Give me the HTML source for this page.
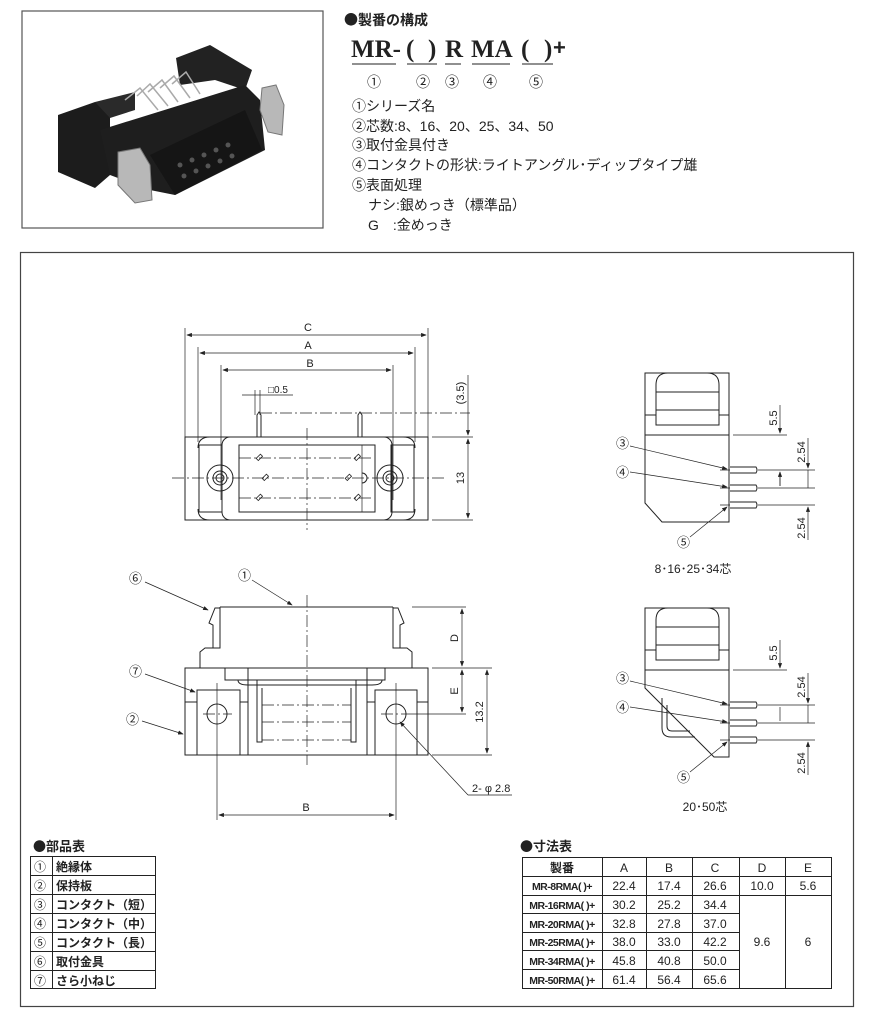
<!DOCTYPE html>
<html><head><meta charset="utf-8"><style>
body{margin:0;background:#fff}
svg{display:block}
text{font-family:"Liberation Sans","Noto Sans CJK JP",sans-serif;fill:#222}
.j{font-family:"Noto Sans CJK JP",sans-serif}
.l{stroke:#222;stroke-width:1;fill:none}
.t{stroke:#222;stroke-width:.7;fill:none}
.c{stroke:#222;stroke-width:.7;fill:none;stroke-dasharray:12 3 2 3}
</style></head><body>
<svg width="874" height="1014" viewBox="0 0 874 1014" xmlns="http://www.w3.org/2000/svg">
<defs><marker id="a" markerWidth="8" markerHeight="6" refX="7" refY="3" orient="auto-start-reverse"><path d="M0,0 L8,3 L0,6z" fill="#222"/></marker></defs>

<!-- photo -->
<rect x="22" y="11" width="301" height="217" fill="#fff" stroke="#555" stroke-width="1.2"/>
<g>
<polygon points="58,115 95,102 110,108 110,175 95,188 58,172" fill="#1c1c1c"/>
<polygon points="95,102 135,92 135,110 110,118" fill="#2a2a2a"/>
<polygon points="176,58 210,45 252,70 245,90 215,80 180,85" fill="#222"/>
<polygon points="100,130 245,85 260,100 265,150 175,195 150,190 110,175" fill="#1e1e1e"/>
<polygon points="150,155 245,110 262,150 175,195" fill="#151515"/>
<g stroke="#aaa" stroke-width="1.5" fill="none">
<path d="M125,100 L140,88 L158,110"/><path d="M137,96 L150,84 L168,106"/><path d="M148,92 L162,80 L178,102"/><path d="M160,88 L174,76 L190,98"/><path d="M172,84 L186,72 L200,94"/>
</g>
<g fill="#555"><circle cx="180" cy="165" r="2.5"/><circle cx="192" cy="160" r="2.5"/><circle cx="204" cy="155" r="2.5"/><circle cx="216" cy="150" r="2.5"/><circle cx="228" cy="145" r="2.5"/><circle cx="184" cy="176" r="2.5"/><circle cx="196" cy="171" r="2.5"/><circle cx="208" cy="166" r="2.5"/><circle cx="220" cy="161" r="2.5"/><circle cx="232" cy="156" r="2.5"/></g>
<polygon points="118,152 140,148 150,165 152,200 135,203 118,185" fill="#b8b8b8" stroke="#777"/>
<polygon points="262,88 276,85 284,105 282,135 268,132 260,110" fill="#b8b8b8" stroke="#777"/>
</g>

<!-- header -->
<text x="344" y="25" font-size="14" font-weight="bold" class="j">●製番の構成</text>
<text x="351" y="57" font-size="25" font-weight="bold" style="font-family:'Liberation Serif',serif">MR-</text>
<text x="406" y="57" font-size="25" font-weight="bold" style="font-family:'Liberation Serif',serif">(</text>
<text x="428" y="57" font-size="25" font-weight="bold" style="font-family:'Liberation Serif',serif">)</text>
<text x="445" y="57" font-size="25" font-weight="bold" style="font-family:'Liberation Serif',serif">R</text>
<text x="471" y="57" font-size="25" font-weight="bold" style="font-family:'Liberation Serif',serif">MA</text>
<text x="521" y="57" font-size="25" font-weight="bold" style="font-family:'Liberation Serif',serif">(</text>
<text x="544" y="57" font-size="25" font-weight="bold" style="font-family:'Liberation Serif',serif">)</text>
<text x="553" y="55" font-size="22" font-weight="bold">+</text>
<g stroke="#222" stroke-width="1"><line x1="352" y1="64" x2="396" y2="64"/><line x1="407" y1="64" x2="437" y2="64"/><line x1="445" y1="64" x2="461" y2="64"/><line x1="472" y1="64" x2="510" y2="64"/><line x1="522" y1="64" x2="553" y2="64"/></g>
<g font-size="14" class="j"><text x="367" y="87">①</text><text x="416" y="87">②</text><text x="445" y="87">③</text><text x="483" y="87">④</text><text x="529" y="87">⑤</text></g>
<g font-size="14"><text x="352" y="111">①シリーズ名</text><text x="352" y="131">②芯数:8、16、20、25、34、50</text><text x="352" y="150">③取付金具付き</text><text x="352" y="170">④コンタクトの形状:ライトアングル･ディップタイプ雄</text><text x="352" y="190">⑤表面処理</text><text x="368" y="210">ナシ:銀めっき（標準品）</text><text x="368" y="230">G　:金めっき</text></g>

<!-- main frame -->
<rect x="20.5" y="252.5" width="833" height="754" fill="none" stroke="#444" stroke-width="1.2"/>

<!-- top view -->
<g>
<line class="t" x1="185" y1="328" x2="185" y2="437"/><line class="t" x1="428" y1="328" x2="428" y2="437"/>
<line class="t" x1="198" y1="347" x2="198" y2="442"/><line class="t" x1="415" y1="347" x2="415" y2="442"/>
<line class="t" x1="221" y1="365" x2="221" y2="500"/><line class="t" x1="393" y1="365" x2="393" y2="500"/>
<line class="t" x1="187" y1="335" x2="426" y2="335" marker-start="url(#a)" marker-end="url(#a)"/>
<line class="t" x1="200" y1="353" x2="413" y2="353" marker-start="url(#a)" marker-end="url(#a)"/>
<line class="t" x1="223" y1="370" x2="391" y2="370" marker-start="url(#a)" marker-end="url(#a)"/>
<text x="308" y="331" font-size="11" text-anchor="middle">C</text>
<text x="308" y="349" font-size="11" text-anchor="middle">A</text>
<text x="310" y="367" font-size="11" text-anchor="middle">B</text>
<text x="268" y="393" font-size="10">□0.5</text>
<line class="t" x1="242" y1="395" x2="293" y2="395"/>
<line class="t" x1="255" y1="390" x2="255" y2="415"/><line class="t" x1="260" y1="390" x2="260" y2="415"/>
<line class="c" x1="260" y1="413" x2="470" y2="413"/>
<path class="l" d="M257,437 V415 l2,-3 l2,3 V437 M358,437 V415 l2,-3 l2,3 V437"/>
<rect class="l" x="185" y="437" width="243" height="83"/>
<path class="l" d="M199,445 H222 V512 H199 Z M391,445 H414 V512 H391 Z"/>
<path class="l" d="M198,448 q0,-11 12,-11 M198,509 q0,11 12,11 M415,448 q0,-11 -12,-11 M415,509 q0,11 -12,11"/>
<rect class="l" x="222" y="437" width="170" height="83" rx="8"/>
<rect class="l" x="239" y="445" width="136" height="67"/>
<line class="t" x1="362" y1="445" x2="362" y2="512"/>
<circle class="l" cx="220" cy="478" r="13"/><circle class="l" cx="220" cy="478" r="7"/><circle class="l" cx="220" cy="478" r="4"/>
<circle class="l" cx="390" cy="478" r="13"/><circle class="l" cx="390" cy="478" r="7"/><circle class="l" cx="390" cy="478" r="4"/>
<path class="l" d="M362,473 a5,5 0 0,1 0,10"/>
<line class="c" x1="172" y1="478" x2="446" y2="478"/>
<line class="c" x1="239" y1="458" x2="374" y2="458"/><line class="c" x1="239" y1="498" x2="374" y2="498"/>
<line class="c" x1="307" y1="428" x2="307" y2="530"/>
<g fill="none" stroke="#222" stroke-width=".8"><rect x="256" y="456" width="6" height="3" transform="rotate(-45 259 457)"/><rect x="262" y="476" width="6" height="3" transform="rotate(-45 265 477)"/><rect x="256" y="496" width="6" height="3" transform="rotate(-45 259 497)"/><rect x="354" y="456" width="6" height="3" transform="rotate(-45 357 457)"/><rect x="345" y="476" width="6" height="3" transform="rotate(-45 348 477)"/><rect x="354" y="496" width="6" height="3" transform="rotate(-45 357 497)"/></g>
<line class="t" x1="432" y1="437" x2="473" y2="437"/><line class="t" x1="432" y1="520" x2="473" y2="520"/>
<line class="t" x1="468" y1="375" x2="468" y2="435" marker-end="url(#a)"/>
<line class="t" x1="468" y1="439" x2="468" y2="518" marker-start="url(#a)" marker-end="url(#a)"/>
<text transform="translate(464,393) rotate(-90)" font-size="11" text-anchor="middle">(3.5)</text>
<text transform="translate(464,478) rotate(-90)" font-size="11" text-anchor="middle">13</text>
</g>

<!-- front view -->
<g>
<path class="l" d="M220,607 H393 M220,607 V648 H213 V625 l-4,-2 l6,-15 h5 M393,607 V648 H400 V625 l4,-2 l-6,-15 h-5 M200,668 V652 l5,-4 h8 M412,668 V652 l-5,-4 h-7 M200,668 H412"/>
<rect class="l" x="185" y="668" width="243" height="87"/>
<path class="l" d="M225,668 V680 H385 V668 M238,680 q0,5 10,5 H372 q10,0 10,-5"/>
<rect class="l" x="197" y="690" width="43" height="65"/><rect class="l" x="375" y="690" width="42" height="65"/>
<path class="l" d="M185,702 H197 M240,702 H248 M367,702 H375 M417,702 H428 M248,668 V755 M367,668 V755"/>
<path class="l" d="M257,680 V742 H262 V688 M356,680 V742 H351 V688"/>
<line class="c" x1="262" y1="705" x2="351" y2="705"/><line class="c" x1="262" y1="722" x2="351" y2="722"/><line class="c" x1="262" y1="740" x2="351" y2="740"/>
<circle class="l" cx="217" cy="714" r="10"/><circle class="l" cx="396" cy="714" r="10"/>
<line class="c" x1="203" y1="714" x2="232" y2="714"/><line class="c" x1="381" y1="714" x2="412" y2="714"/>
<line class="c" x1="307" y1="595" x2="307" y2="765"/>
<line class="t" x1="217" y1="683" x2="217" y2="820"/><line class="t" x1="396" y1="683" x2="396" y2="820"/>
<line class="t" x1="219" y1="815" x2="394" y2="815" marker-start="url(#a)" marker-end="url(#a)"/>
<text x="306" y="811" font-size="11" text-anchor="middle">B</text>
<line class="t" x1="412" y1="607" x2="466" y2="607"/><line class="t" x1="432" y1="668" x2="492" y2="668"/><line class="t" x1="412" y1="714" x2="466" y2="714"/><line class="t" x1="432" y1="755" x2="492" y2="755"/>
<line class="t" x1="462" y1="609" x2="462" y2="666" marker-start="url(#a)" marker-end="url(#a)"/>
<line class="t" x1="462" y1="670" x2="462" y2="712" marker-start="url(#a)" marker-end="url(#a)"/>
<line class="t" x1="487" y1="670" x2="487" y2="753" marker-start="url(#a)" marker-end="url(#a)"/>
<text transform="translate(458,638) rotate(-90)" font-size="11" text-anchor="middle">D</text>
<text transform="translate(458,691) rotate(-90)" font-size="11" text-anchor="middle">E</text>
<text transform="translate(483,712) rotate(-90)" font-size="11" text-anchor="middle">13.2</text>
<line class="t" x1="468" y1="795" x2="400" y2="722" marker-end="url(#a)"/><line class="t" x1="468" y1="795" x2="512" y2="795"/>
<text x="472" y="792" font-size="11">2- φ 2.8</text>
<line class="t" x1="145" y1="582" x2="208" y2="610" marker-end="url(#a)"/>
<line class="t" x1="252" y1="580" x2="292" y2="605" marker-end="url(#a)"/>
<line class="t" x1="145" y1="674" x2="195" y2="692" marker-end="url(#a)"/>
<line class="t" x1="142" y1="721" x2="183" y2="734" marker-end="url(#a)"/>
<g font-size="13" class="j"><text x="129" y="583">⑥</text><text x="238" y="580">①</text><text x="129" y="676">⑦</text><text x="126" y="724">②</text></g>
</g>

<!-- side view 1 -->
<g>
<path class="l" d="M645,373 H729 V522 H662 L645,503 Z M645,415 H656 M719,415 H729 M645,435 H729"/>
<path class="l" d="M656,425 V385 q0,-12 12,-12 H707 q12,0 12,12 V425 Z M656,392 H719 M656,410 H719"/>
<g class="l"><path d="M730,467 H756 q2,3 0,6 H730"/><path d="M730,485 H756 q2,3 0,6 H730"/><path d="M730,502 H756 q2,3 0,6 H730"/></g>
<path class="t" d="M720,470 H730 M720,488 H730 M720,505 H730"/>
<line class="t" x1="733" y1="435" x2="787" y2="435"/>
<line class="t" x1="758" y1="470" x2="815" y2="470"/><line class="t" x1="758" y1="488" x2="815" y2="488"/><line class="t" x1="758" y1="505" x2="815" y2="505"/>
<line class="t" x1="780" y1="405" x2="780" y2="433" marker-end="url(#a)"/><line class="t" x1="780" y1="486" x2="780" y2="472" marker-end="url(#a)"/><line class="t" x1="780" y1="472" x2="780" y2="486"/>
<line class="t" x1="808" y1="438" x2="808" y2="468" marker-end="url(#a)"/><line class="t" x1="808" y1="470" x2="808" y2="488"/>
<line class="t" x1="808" y1="540" x2="808" y2="507" marker-end="url(#a)"/>
<text transform="translate(777,418) rotate(-90)" font-size="11" text-anchor="middle">5.5</text>
<text transform="translate(805,452) rotate(-90)" font-size="11" text-anchor="middle">2.54</text>
<text transform="translate(805,528) rotate(-90)" font-size="11" text-anchor="middle">2.54</text>
<line class="t" x1="630" y1="446" x2="727" y2="469" marker-end="url(#a)"/>
<line class="t" x1="630" y1="472" x2="727" y2="487" marker-end="url(#a)"/>
<line class="t" x1="690" y1="537" x2="727" y2="507" marker-end="url(#a)"/>
<g font-size="13" class="j"><text x="616" y="448">③</text><text x="616" y="477">④</text><text x="677" y="547">⑤</text></g>
<text x="693" y="573" font-size="12" text-anchor="middle">8･16･25･34芯</text>
</g>

<!-- side view 2 -->
<g transform="translate(0,235)">
<path class="l" d="M645,373 H729 V522 H714 L645,453 Z M645,415 H656 M719,415 H729 M645,435 H729"/>
<path class="l" d="M656,425 V385 q0,-12 12,-12 H707 q12,0 12,12 V425 Z M656,392 H719 M656,410 H719"/>
<path class="l" d="M662,463 V493 q0,9 9,9 H695 M667,470 V491 q0,5 5,5 H690"/>
<g class="l"><path d="M730,467 H756 q2,3 0,6 H730"/><path d="M730,485 H756 q2,3 0,6 H730"/><path d="M730,502 H756 q2,3 0,6 H730"/></g>
<path class="t" d="M720,470 H730 M720,488 H730 M720,505 H730"/>
<line class="t" x1="733" y1="435" x2="787" y2="435"/>
<line class="t" x1="758" y1="470" x2="815" y2="470"/><line class="t" x1="758" y1="488" x2="815" y2="488"/><line class="t" x1="758" y1="505" x2="815" y2="505"/>
<line class="t" x1="780" y1="405" x2="780" y2="433" marker-end="url(#a)"/><line class="t" x1="780" y1="472" x2="780" y2="486"/>
<line class="t" x1="808" y1="438" x2="808" y2="468" marker-end="url(#a)"/><line class="t" x1="808" y1="470" x2="808" y2="488"/>
<line class="t" x1="808" y1="540" x2="808" y2="507" marker-end="url(#a)"/>
<text transform="translate(777,418) rotate(-90)" font-size="11" text-anchor="middle">5.5</text>
<text transform="translate(805,452) rotate(-90)" font-size="11" text-anchor="middle">2.54</text>
<text transform="translate(805,528) rotate(-90)" font-size="11" text-anchor="middle">2.54</text>
<line class="t" x1="630" y1="446" x2="727" y2="469" marker-end="url(#a)"/>
<line class="t" x1="630" y1="472" x2="727" y2="487" marker-end="url(#a)"/>
<line class="t" x1="690" y1="537" x2="727" y2="507" marker-end="url(#a)"/>
<g font-size="13" class="j"><text x="616" y="448">③</text><text x="616" y="477">④</text><text x="677" y="547">⑤</text></g>
<text x="705" y="576" font-size="12" text-anchor="middle">20･50芯</text>
</g>

<!-- parts table -->
<text x="33" y="851" font-size="13" font-weight="bold" class="j">●部品表</text>
<g class="l"><rect x="30.5" y="856.5" width="125" height="132"/>
<line x1="30" y1="875.5" x2="155" y2="875.5"/><line x1="30" y1="894.5" x2="155" y2="894.5"/><line x1="30" y1="913.5" x2="155" y2="913.5"/><line x1="30" y1="932.5" x2="155" y2="932.5"/><line x1="30" y1="951.5" x2="155" y2="951.5"/><line x1="30" y1="970.5" x2="155" y2="970.5"/><line x1="52.5" y1="856" x2="52.5" y2="989"/></g>
<g font-size="12"><text x="34" y="871">①</text><text x="34" y="890">②</text><text x="34" y="909">③</text><text x="34" y="928">④</text><text x="34" y="947">⑤</text><text x="34" y="966">⑥</text><text x="34" y="985">⑦</text>
<text x="56" y="871" font-weight="bold">絶縁体</text><text x="56" y="890" font-weight="bold">保持板</text><text x="56" y="909" font-weight="bold">コンタクト（短）</text><text x="56" y="928" font-weight="bold">コンタクト（中）</text><text x="56" y="947" font-weight="bold">コンタクト（長）</text><text x="56" y="966" font-weight="bold">取付金具</text><text x="56" y="985" font-weight="bold">さら小ねじ</text></g>

<!-- dimension table -->
<text x="520" y="851" font-size="13" font-weight="bold" class="j">●寸法表</text>
<g class="l"><rect x="522.5" y="857.5" width="309" height="131"/>
<line x1="522" y1="876.5" x2="832" y2="876.5"/><line x1="522" y1="895.5" x2="832" y2="895.5"/>
<line x1="522" y1="913.5" x2="739" y2="913.5"/><line x1="522" y1="932.5" x2="739" y2="932.5"/><line x1="522" y1="950.5" x2="739" y2="950.5"/><line x1="522" y1="969.5" x2="739" y2="969.5"/>
<line x1="602.5" y1="857" x2="602.5" y2="989"/><line x1="646.5" y1="857" x2="646.5" y2="989"/><line x1="692.5" y1="857" x2="692.5" y2="989"/><line x1="739.5" y1="857" x2="739.5" y2="989"/><line x1="785.5" y1="857" x2="785.5" y2="989"/></g>
<g font-size="12" text-anchor="middle"><text x="562" y="872" font-weight="bold">製番</text><text x="624" y="872">A</text><text x="669" y="872">B</text><text x="715" y="872">C</text><text x="762" y="872">D</text><text x="808" y="872">E</text></g>
<g font-size="10.5" font-weight="bold" text-anchor="middle" style="letter-spacing:-.5px"><text x="562" y="890">MR-8RMA(  )+</text><text x="562" y="909">MR-16RMA(  )+</text><text x="562" y="928">MR-20RMA(  )+</text><text x="562" y="946">MR-25RMA(  )+</text><text x="562" y="965">MR-34RMA(  )+</text><text x="562" y="984">MR-50RMA(  )+</text></g>
<g font-size="12" text-anchor="middle">
<text x="624" y="890">22.4</text><text x="669" y="890">17.4</text><text x="715" y="890">26.6</text><text x="762" y="890">10.0</text><text x="808" y="890">5.6</text>
<text x="624" y="909">30.2</text><text x="669" y="909">25.2</text><text x="715" y="909">34.4</text>
<text x="624" y="928">32.8</text><text x="669" y="928">27.8</text><text x="715" y="928">37.0</text>
<text x="624" y="946">38.0</text><text x="669" y="946">33.0</text><text x="715" y="946">42.2</text>
<text x="624" y="965">45.8</text><text x="669" y="965">40.8</text><text x="715" y="965">50.0</text>
<text x="624" y="984">61.4</text><text x="669" y="984">56.4</text><text x="715" y="984">65.6</text>
<text x="762" y="946">9.6</text><text x="808" y="946">6</text></g>
</svg>
</body></html>
